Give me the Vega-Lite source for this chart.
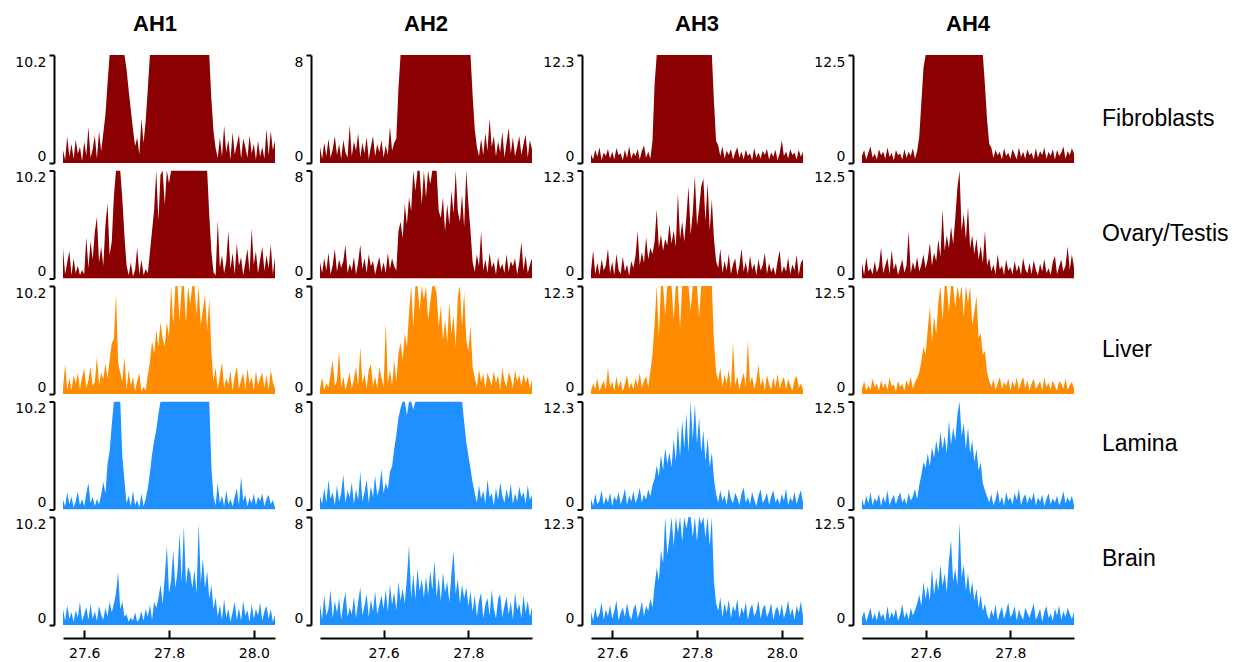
{
"$schema": "https://vega.github.io/schema/vega-lite/v6.json",
"background": "white",
"padding": {"left": 14, "top": 13, "right": 0, "bottom": 5},
"config": {
  "view": {"stroke": null},
  "font": "DejaVu Sans",
  "title": {"font": "Liberation Sans", "fontSize": 22, "fontWeight": "bold", "color": "#000", "offset": 18, "anchor": "middle", "frame": "group"},
  "axisY": {"title": null, "grid": false, "domain": true, "domainColor": "#000", "domainWidth": 2, "tickColor": "#000", "tickWidth": 2, "tickSize": 5, "labelPadding": 3, "offset": 9, "labelFlush": true, "labelFont": "DejaVu Sans", "labelFontSize": 14, "labelColor": "#000", "labelExpr": "'' + datum.value"},
  "axisX": {"title": null, "grid": false, "domain": true, "domainColor": "#000", "domainWidth": 2, "tickColor": "#000", "tickWidth": 2, "tickSize": -8, "labelPadding": 16, "offset": 13, "labelFlush": false, "labelFont": "DejaVu Sans", "labelFontSize": 14, "labelColor": "#000"},
  "area": {"line": false}
},
"datasets": {
"AH1": [
{"x":27.55,"F":1.2,"O":2.8,"L":0.5,"M":0.9,"B":1.5},
{"x":27.555,"F":0.3,"O":0.4,"L":2.8,"M":0.3,"B":0.4},
{"x":27.56,"F":2.5,"O":1.5,"L":0.4,"M":1.6,"B":1.9},
{"x":27.565,"F":0.6,"O":2.6,"L":1.5,"M":0.5,"B":0.6},
{"x":27.57,"F":1.8,"O":0.3,"L":0.3,"M":1.2,"B":1.2},
{"x":27.575,"F":0.4,"O":1.9,"L":1.8,"M":0.2,"B":0.3},
{"x":27.58,"F":2.2,"O":0.5,"L":1.0,"M":0.8,"B":1.4},
{"x":27.585,"F":0.9,"O":1.2,"L":2.0,"M":1.7,"B":0.7},
{"x":27.59,"F":1.5,"O":0.3,"L":0.4,"M":0.4,"B":2.2},
{"x":27.595,"F":0.2,"O":0.8,"L":1.6,"M":1.0,"B":0.4},
{"x":27.6,"F":2.0,"O":0.4,"L":2.4,"M":0.3,"B":1.0},
{"x":27.605,"F":0.7,"O":3.9,"L":0.6,"M":1.5,"B":1.7},
{"x":27.61,"F":3.4,"O":1.0,"L":1.3,"M":2.5,"B":0.5},
{"x":27.615,"F":0.5,"O":3.5,"L":2.6,"M":0.6,"B":2.0},
{"x":27.62,"F":1.3,"O":1.8,"L":0.8,"M":1.2,"B":0.6},
{"x":27.625,"F":2.6,"O":4.4,"L":1.1,"M":0.3,"B":1.3},
{"x":27.63,"F":0.4,"O":5.8,"L":3.5,"M":1.0,"B":0.4},
{"x":27.635,"F":3.0,"O":1.5,"L":0.9,"M":0.5,"B":1.8},
{"x":27.64,"F":1.1,"O":3.0,"L":2.0,"M":1.4,"B":1.0},
{"x":27.645,"F":2.8,"O":1.2,"L":1.4,"M":2.6,"B":0.5},
{"x":27.65,"F":4.5,"O":5.0,"L":2.9,"M":1.5,"B":1.6},
{"x":27.655,"F":7.5,"O":7.1,"L":1.5,"M":4.3,"B":0.8},
{"x":27.66,"F":10.2,"O":2.2,"L":3.2,"M":5.5,"B":2.2},
{"x":27.665,"F":10.2,"O":3.5,"L":4.8,"M":8.0,"B":1.2},
{"x":27.67,"F":10.2,"O":7.8,"L":5.2,"M":10.2,"B":2.0},
{"x":27.675,"F":10.2,"O":10.2,"L":9.5,"M":10.2,"B":3.0},
{"x":27.68,"F":10.2,"O":10.2,"L":3.0,"M":10.2,"B":5.0},
{"x":27.685,"F":10.2,"O":10.2,"L":2.0,"M":10.2,"B":1.5},
{"x":27.69,"F":10.2,"O":7.5,"L":1.2,"M":5.0,"B":2.2},
{"x":27.695,"F":10.2,"O":4.0,"L":3.5,"M":2.7,"B":0.8},
{"x":27.7,"F":8.8,"O":1.2,"L":0.4,"M":0.6,"B":1.0},
{"x":27.705,"F":6.8,"O":0.3,"L":2.3,"M":1.3,"B":0.3},
{"x":27.71,"F":5.0,"O":1.5,"L":0.8,"M":0.3,"B":0.7},
{"x":27.715,"F":3.2,"O":0.2,"L":1.6,"M":1.8,"B":0.4},
{"x":27.72,"F":1.6,"O":0.8,"L":0.3,"M":0.4,"B":1.2},
{"x":27.725,"F":2.4,"O":2.9,"L":1.2,"M":0.9,"B":0.3},
{"x":27.73,"F":0.8,"O":0.4,"L":2.0,"M":0.2,"B":0.6},
{"x":27.735,"F":4.2,"O":1.8,"L":0.2,"M":1.5,"B":1.3},
{"x":27.74,"F":1.9,"O":0.3,"L":0.7,"M":0.3,"B":0.4},
{"x":27.745,"F":4.0,"O":0.9,"L":0.3,"M":1.0,"B":1.5},
{"x":27.75,"F":7.0,"O":0.5,"L":1.8,"M":2.0,"B":0.8},
{"x":27.755,"F":10.2,"O":2.5,"L":3.0,"M":3.5,"B":1.9},
{"x":27.76,"F":10.2,"O":4.5,"L":5.0,"M":5.2,"B":0.5},
{"x":27.765,"F":10.2,"O":6.5,"L":3.8,"M":6.5,"B":2.2},
{"x":27.77,"F":10.2,"O":10.2,"L":6.0,"M":7.5,"B":1.6},
{"x":27.775,"F":10.2,"O":5.5,"L":4.5,"M":9.0,"B":2.5},
{"x":27.78,"F":10.2,"O":9.8,"L":6.8,"M":10.2,"B":3.8},
{"x":27.785,"F":10.2,"O":10.2,"L":5.2,"M":10.2,"B":2.0},
{"x":27.79,"F":10.2,"O":7.0,"L":4.5,"M":10.2,"B":4.5},
{"x":27.795,"F":10.2,"O":10.2,"L":6.8,"M":10.2,"B":7.5},
{"x":27.8,"F":10.2,"O":9.0,"L":5.4,"M":10.2,"B":3.0},
{"x":27.805,"F":10.2,"O":10.2,"L":10.2,"M":10.2,"B":4.2},
{"x":27.81,"F":10.2,"O":10.2,"L":6.5,"M":10.2,"B":7.1},
{"x":27.815,"F":10.2,"O":10.2,"L":10.2,"M":10.2,"B":3.5},
{"x":27.82,"F":10.2,"O":10.2,"L":10.2,"M":10.2,"B":5.0},
{"x":27.825,"F":10.2,"O":10.2,"L":7.0,"M":10.2,"B":8.7},
{"x":27.83,"F":10.2,"O":10.2,"L":10.2,"M":10.2,"B":4.0},
{"x":27.835,"F":10.2,"O":10.2,"L":10.2,"M":10.2,"B":9.4},
{"x":27.84,"F":10.2,"O":10.2,"L":6.8,"M":10.2,"B":3.8},
{"x":27.845,"F":10.2,"O":10.2,"L":10.2,"M":10.2,"B":5.5},
{"x":27.85,"F":10.2,"O":10.2,"L":8.5,"M":10.2,"B":4.9},
{"x":27.855,"F":10.2,"O":10.2,"L":10.2,"M":10.2,"B":3.5},
{"x":27.86,"F":10.2,"O":10.2,"L":10.2,"M":10.2,"B":5.2},
{"x":27.865,"F":10.2,"O":10.2,"L":7.5,"M":10.2,"B":3.0},
{"x":27.87,"F":10.2,"O":10.2,"L":10.2,"M":10.2,"B":9.6},
{"x":27.875,"F":10.2,"O":10.2,"L":6.5,"M":10.2,"B":4.0},
{"x":27.88,"F":10.2,"O":10.2,"L":8.0,"M":10.2,"B":6.3},
{"x":27.885,"F":10.2,"O":10.2,"L":9.3,"M":10.2,"B":3.5},
{"x":27.89,"F":10.2,"O":10.2,"L":6.0,"M":10.2,"B":5.1},
{"x":27.895,"F":10.2,"O":6.0,"L":9.0,"M":10.2,"B":2.5},
{"x":27.9,"F":6.0,"O":2.5,"L":4.0,"M":4.0,"B":3.8},
{"x":27.905,"F":3.0,"O":0.6,"L":1.2,"M":1.2,"B":1.5},
{"x":27.91,"F":1.4,"O":0.3,"L":2.5,"M":0.4,"B":2.6},
{"x":27.915,"F":0.5,"O":5.5,"L":0.4,"M":2.5,"B":0.8},
{"x":27.92,"F":2.4,"O":1.0,"L":1.8,"M":0.6,"B":1.9},
{"x":27.925,"F":0.6,"O":2.2,"L":3.0,"M":1.3,"B":0.5},
{"x":27.93,"F":3.5,"O":0.5,"L":0.6,"M":0.3,"B":2.4},
{"x":27.935,"F":1.0,"O":1.6,"L":1.5,"M":1.8,"B":0.7},
{"x":27.94,"F":2.2,"O":4.5,"L":0.9,"M":0.5,"B":1.5},
{"x":27.945,"F":0.3,"O":0.9,"L":2.2,"M":1.0,"B":0.3},
{"x":27.95,"F":2.9,"O":2.4,"L":0.3,"M":0.3,"B":1.2},
{"x":27.955,"F":0.8,"O":0.4,"L":1.7,"M":1.2,"B":2.2},
{"x":27.96,"F":1.7,"O":3.3,"L":2.6,"M":2.0,"B":0.5},
{"x":27.965,"F":2.7,"O":1.2,"L":0.5,"M":0.4,"B":1.6},
{"x":27.97,"F":0.4,"O":2.0,"L":1.3,"M":3.1,"B":0.4},
{"x":27.975,"F":2.3,"O":0.3,"L":2.0,"M":0.8,"B":2.3},
{"x":27.98,"F":1.5,"O":1.5,"L":0.4,"M":1.4,"B":0.9},
{"x":27.985,"F":0.5,"O":2.8,"L":2.4,"M":0.3,"B":1.4},
{"x":27.99,"F":2.6,"O":0.6,"L":1.0,"M":1.1,"B":0.3},
{"x":27.995,"F":0.9,"O":4.7,"L":1.6,"M":0.6,"B":2.0},
{"x":28.0,"F":1.8,"O":1.3,"L":0.3,"M":1.5,"B":0.6},
{"x":28.005,"F":0.3,"O":2.6,"L":2.2,"M":0.4,"B":1.5},
{"x":28.01,"F":2.1,"O":0.5,"L":0.8,"M":1.2,"B":0.9},
{"x":28.015,"F":0.6,"O":1.8,"L":1.5,"M":0.8,"B":2.1},
{"x":28.02,"F":1.5,"O":3.0,"L":2.0,"M":1.5,"B":0.4},
{"x":28.025,"F":0.4,"O":0.7,"L":0.6,"M":0.3,"B":1.3},
{"x":28.03,"F":3.2,"O":2.2,"L":1.8,"M":1.0,"B":1.8},
{"x":28.035,"F":0.7,"O":1.0,"L":0.4,"M":1.4,"B":0.6},
{"x":28.04,"F":3.0,"O":3.2,"L":2.3,"M":0.5,"B":1.5},
{"x":28.045,"F":1.2,"O":0.4,"L":1.1,"M":0.9,"B":0.3},
{"x":28.05,"F":2.1,"O":2.0,"L":0.5,"M":0.2,"B":1.0}
],
"AH2": [
{"x":27.45,"F":1.2,"O":1.2,"L":0.4,"M":1.0,"B":1.5},
{"x":27.455,"F":0.3,"O":0.4,"L":1.2,"M":0.4,"B":0.4},
{"x":27.46,"F":1.5,"O":1.5,"L":0.3,"M":1.6,"B":2.2},
{"x":27.465,"F":0.5,"O":0.6,"L":0.8,"M":0.5,"B":0.7},
{"x":27.47,"F":1.8,"O":1.9,"L":0.5,"M":2.2,"B":1.2},
{"x":27.475,"F":0.4,"O":0.3,"L":1.5,"M":0.8,"B":2.6},
{"x":27.48,"F":1.0,"O":1.0,"L":2.5,"M":1.3,"B":0.5},
{"x":27.485,"F":2.0,"O":2.2,"L":0.6,"M":0.3,"B":1.8},
{"x":27.49,"F":0.6,"O":0.5,"L":1.0,"M":1.8,"B":0.9},
{"x":27.495,"F":1.4,"O":1.4,"L":3.2,"M":0.6,"B":2.0},
{"x":27.5,"F":0.3,"O":0.8,"L":0.5,"M":1.2,"B":0.4},
{"x":27.505,"F":1.7,"O":1.3,"L":1.3,"M":2.6,"B":1.6},
{"x":27.51,"F":0.8,"O":2.5,"L":0.3,"M":0.5,"B":2.4},
{"x":27.515,"F":0.4,"O":0.4,"L":0.9,"M":1.4,"B":0.6},
{"x":27.52,"F":2.8,"O":1.1,"L":1.6,"M":0.9,"B":1.3},
{"x":27.525,"F":0.5,"O":0.6,"L":0.4,"M":2.0,"B":0.8},
{"x":27.53,"F":1.6,"O":1.6,"L":1.1,"M":0.4,"B":2.1},
{"x":27.535,"F":0.9,"O":0.3,"L":2.0,"M":1.5,"B":0.5},
{"x":27.54,"F":2.2,"O":1.2,"L":0.6,"M":0.7,"B":1.7},
{"x":27.545,"F":0.4,"O":2.5,"L":3.5,"M":2.8,"B":2.8},
{"x":27.55,"F":1.5,"O":0.7,"L":0.8,"M":0.6,"B":0.7},
{"x":27.555,"F":0.7,"O":1.5,"L":1.5,"M":1.3,"B":1.4},
{"x":27.56,"F":1.9,"O":0.4,"L":0.4,"M":2.2,"B":2.3},
{"x":27.565,"F":0.3,"O":1.8,"L":1.8,"M":0.5,"B":0.6},
{"x":27.57,"F":1.2,"O":0.9,"L":2.2,"M":1.7,"B":1.9},
{"x":27.575,"F":2.0,"O":1.3,"L":0.6,"M":0.9,"B":1.0},
{"x":27.58,"F":0.5,"O":0.3,"L":1.3,"M":2.5,"B":2.5},
{"x":27.585,"F":1.4,"O":1.0,"L":0.4,"M":1.0,"B":0.8},
{"x":27.59,"F":0.8,"O":1.6,"L":2.0,"M":1.6,"B":1.5},
{"x":27.595,"F":1.7,"O":0.5,"L":1.2,"M":3.0,"B":2.2},
{"x":27.6,"F":0.4,"O":1.2,"L":0.5,"M":1.2,"B":1.2},
{"x":27.605,"F":1.3,"O":0.4,"L":5.3,"M":2.0,"B":2.6},
{"x":27.61,"F":0.6,"O":1.9,"L":0.8,"M":1.5,"B":1.0},
{"x":27.615,"F":2.7,"O":0.7,"L":1.8,"M":2.8,"B":3.0},
{"x":27.62,"F":0.9,"O":1.5,"L":0.6,"M":3.2,"B":1.5},
{"x":27.625,"F":1.5,"O":0.9,"L":2.5,"M":4.5,"B":2.4},
{"x":27.63,"F":1.8,"O":0.6,"L":0.9,"M":5.5,"B":1.1},
{"x":27.635,"F":5.5,"O":3.5,"L":3.0,"M":6.8,"B":3.2},
{"x":27.64,"F":8,"O":4.2,"L":3.8,"M":7.5,"B":1.8},
{"x":27.645,"F":8,"O":3.0,"L":2.5,"M":8,"B":2.7},
{"x":27.65,"F":8,"O":5.5,"L":4.5,"M":8,"B":1.6},
{"x":27.655,"F":8,"O":4.0,"L":3.5,"M":7.0,"B":3.5},
{"x":27.66,"F":8,"O":6.0,"L":6.0,"M":8,"B":5.9},
{"x":27.665,"F":8,"O":5.0,"L":8,"M":8,"B":2.0},
{"x":27.67,"F":8,"O":8,"L":5.0,"M":7.4,"B":3.8},
{"x":27.675,"F":8,"O":6.5,"L":8,"M":8,"B":1.9},
{"x":27.68,"F":8,"O":8,"L":8,"M":8,"B":4.2},
{"x":27.685,"F":8,"O":8,"L":6.2,"M":8,"B":2.5},
{"x":27.69,"F":8,"O":5.5,"L":8,"M":8,"B":3.4},
{"x":27.695,"F":8,"O":8,"L":7.0,"M":8,"B":2.0},
{"x":27.7,"F":8,"O":6.0,"L":8,"M":8,"B":3.6},
{"x":27.705,"F":8,"O":8,"L":5.5,"M":8,"B":2.2},
{"x":27.71,"F":8,"O":7.0,"L":6.8,"M":8,"B":4.0},
{"x":27.715,"F":8,"O":8,"L":8,"M":8,"B":2.6},
{"x":27.72,"F":8,"O":8,"L":8,"M":8,"B":4.8},
{"x":27.725,"F":8,"O":8,"L":7.5,"M":8,"B":2.1},
{"x":27.73,"F":8,"O":5.0,"L":5.0,"M":8,"B":3.5},
{"x":27.735,"F":8,"O":4.5,"L":6.5,"M":8,"B":1.8},
{"x":27.74,"F":8,"O":6.0,"L":4.0,"M":8,"B":3.9},
{"x":27.745,"F":8,"O":3.5,"L":5.5,"M":8,"B":2.4},
{"x":27.75,"F":8,"O":5.5,"L":3.8,"M":8,"B":3.2},
{"x":27.755,"F":8,"O":4.0,"L":6.8,"M":8,"B":1.7},
{"x":27.76,"F":8,"O":6.5,"L":4.5,"M":8,"B":3.8},
{"x":27.765,"F":8,"O":4.8,"L":5.8,"M":8,"B":5.5},
{"x":27.77,"F":8,"O":8,"L":3.5,"M":8,"B":2.3},
{"x":27.775,"F":8,"O":5.0,"L":7.2,"M":8,"B":3.4},
{"x":27.78,"F":8,"O":4.2,"L":8,"M":8,"B":1.6},
{"x":27.785,"F":8,"O":6.2,"L":5.0,"M":8,"B":3.0},
{"x":27.79,"F":8,"O":3.8,"L":7.6,"M":6.5,"B":2.0},
{"x":27.795,"F":8,"O":8,"L":4.0,"M":5.0,"B":2.8},
{"x":27.8,"F":8,"O":5.5,"L":3.2,"M":4.0,"B":1.4},
{"x":27.805,"F":8,"O":3.5,"L":5.0,"M":3.0,"B":2.5},
{"x":27.81,"F":5.0,"O":1.2,"L":2.0,"M":2.0,"B":1.0},
{"x":27.815,"F":2.5,"O":0.5,"L":1.2,"M":1.2,"B":2.2},
{"x":27.82,"F":1.2,"O":1.8,"L":0.5,"M":0.5,"B":0.6},
{"x":27.825,"F":0.5,"O":0.9,"L":1.8,"M":1.8,"B":1.8},
{"x":27.83,"F":1.8,"O":3.5,"L":0.9,"M":0.8,"B":2.4},
{"x":27.835,"F":0.6,"O":0.6,"L":1.5,"M":1.4,"B":0.5},
{"x":27.84,"F":2.2,"O":1.4,"L":0.4,"M":0.4,"B":1.5},
{"x":27.845,"F":0.9,"O":0.4,"L":1.6,"M":2.2,"B":2.0},
{"x":27.85,"F":3.3,"O":1.9,"L":1.1,"M":0.9,"B":0.7},
{"x":27.855,"F":1.2,"O":0.8,"L":0.6,"M":1.2,"B":2.6},
{"x":27.86,"F":2.0,"O":1.2,"L":1.7,"M":0.3,"B":1.2},
{"x":27.865,"F":0.5,"O":0.3,"L":0.8,"M":1.6,"B":0.5},
{"x":27.87,"F":1.6,"O":1.6,"L":1.4,"M":0.7,"B":1.9},
{"x":27.875,"F":0.8,"O":0.7,"L":0.3,"M":2.0,"B":2.3},
{"x":27.88,"F":2.3,"O":1.1,"L":1.9,"M":1.0,"B":0.6},
{"x":27.885,"F":0.4,"O":0.4,"L":1.0,"M":0.5,"B":1.4},
{"x":27.89,"F":1.5,"O":1.8,"L":0.5,"M":1.5,"B":2.1},
{"x":27.895,"F":2.6,"O":0.5,"L":1.6,"M":0.8,"B":0.8},
{"x":27.9,"F":0.7,"O":1.3,"L":1.2,"M":1.9,"B":1.7},
{"x":27.905,"F":1.9,"O":0.9,"L":0.4,"M":0.4,"B":0.4},
{"x":27.91,"F":0.5,"O":1.5,"L":1.8,"M":1.2,"B":2.4},
{"x":27.915,"F":1.2,"O":0.3,"L":0.9,"M":0.6,"B":1.1},
{"x":27.92,"F":2.0,"O":1.2,"L":1.4,"M":1.7,"B":1.6},
{"x":27.925,"F":0.6,"O":2.7,"L":0.6,"M":0.9,"B":0.5},
{"x":27.93,"F":1.4,"O":0.6,"L":1.5,"M":1.3,"B":2.2},
{"x":27.935,"F":2.1,"O":1.7,"L":0.8,"M":0.4,"B":0.9},
{"x":27.94,"F":0.4,"O":0.4,"L":1.3,"M":1.8,"B":1.8},
{"x":27.945,"F":1.7,"O":1.0,"L":0.4,"M":0.7,"B":0.6},
{"x":27.95,"F":1.0,"O":1.5,"L":1.1,"M":1.1,"B":1.3}
],
"AH3": [
{"x":27.55,"F":1.0,"O":0.8,"L":0.4,"M":1.2,"B":1.5},
{"x":27.555,"F":0.4,"O":3.2,"L":1.2,"M":0.4,"B":0.5},
{"x":27.56,"F":1.5,"O":0.5,"L":0.6,"M":1.8,"B":2.0},
{"x":27.565,"F":0.7,"O":1.8,"L":1.8,"M":0.6,"B":0.8},
{"x":27.57,"F":1.8,"O":0.4,"L":0.3,"M":1.0,"B":1.3},
{"x":27.575,"F":0.3,"O":2.2,"L":1.0,"M":2.2,"B":2.6},
{"x":27.58,"F":1.2,"O":0.9,"L":1.5,"M":0.5,"B":0.6},
{"x":27.585,"F":0.8,"O":1.5,"L":0.5,"M":1.4,"B":1.8},
{"x":27.59,"F":1.6,"O":3.4,"L":3.0,"M":0.8,"B":1.0},
{"x":27.595,"F":0.5,"O":0.6,"L":0.8,"M":1.9,"B":2.3},
{"x":27.6,"F":1.3,"O":1.9,"L":1.4,"M":0.4,"B":0.7},
{"x":27.605,"F":0.4,"O":0.4,"L":0.4,"M":1.5,"B":1.6},
{"x":27.61,"F":1.7,"O":2.8,"L":2.0,"M":1.0,"B":2.8},
{"x":27.615,"F":0.9,"O":1.0,"L":0.7,"M":2.0,"B":0.5},
{"x":27.62,"F":1.1,"O":0.5,"L":1.6,"M":0.6,"B":1.4},
{"x":27.625,"F":0.3,"O":2.5,"L":0.3,"M":1.3,"B":2.0},
{"x":27.63,"F":1.5,"O":0.8,"L":1.1,"M":2.4,"B":0.9},
{"x":27.635,"F":0.6,"O":1.6,"L":2.2,"M":0.5,"B":2.5},
{"x":27.64,"F":1.9,"O":0.3,"L":0.6,"M":1.6,"B":1.2},
{"x":27.645,"F":0.5,"O":2.0,"L":1.3,"M":0.9,"B":0.6},
{"x":27.65,"F":1.2,"O":1.2,"L":0.5,"M":2.1,"B":1.8},
{"x":27.655,"F":0.8,"O":2.6,"L":1.8,"M":0.7,"B":2.4},
{"x":27.66,"F":1.6,"O":5.4,"L":0.9,"M":1.4,"B":0.8},
{"x":27.665,"F":0.4,"O":1.5,"L":2.4,"M":2.5,"B":1.5},
{"x":27.67,"F":1.4,"O":3.0,"L":0.7,"M":0.8,"B":2.7},
{"x":27.675,"F":2.0,"O":1.8,"L":1.5,"M":1.7,"B":1.0},
{"x":27.68,"F":0.6,"O":4.7,"L":2.0,"M":1.1,"B":2.2},
{"x":27.685,"F":1.3,"O":2.2,"L":0.8,"M":2.3,"B":1.6},
{"x":27.69,"F":0.5,"O":3.5,"L":2.6,"M":1.5,"B":3.0},
{"x":27.695,"F":2.5,"O":2.8,"L":4.5,"M":2.8,"B":2.0},
{"x":27.7,"F":9.0,"O":4.2,"L":8.0,"M":3.5,"B":4.5},
{"x":27.705,"F":12.3,"O":7.9,"L":12.3,"M":5.0,"B":6.5},
{"x":27.71,"F":12.3,"O":3.5,"L":6.5,"M":3.8,"B":5.0},
{"x":27.715,"F":12.3,"O":5.0,"L":12.3,"M":6.2,"B":8.5},
{"x":27.72,"F":12.3,"O":3.2,"L":12.3,"M":4.5,"B":7.0},
{"x":27.725,"F":12.3,"O":4.5,"L":9.0,"M":7.0,"B":12.3},
{"x":27.73,"F":12.3,"O":3.8,"L":12.3,"M":5.2,"B":8.0},
{"x":27.735,"F":12.3,"O":6.2,"L":12.3,"M":6.5,"B":10.0},
{"x":27.74,"F":12.3,"O":4.0,"L":12.3,"M":4.8,"B":12.3},
{"x":27.745,"F":12.3,"O":5.5,"L":8.5,"M":8.0,"B":9.0},
{"x":27.75,"F":12.3,"O":3.6,"L":12.3,"M":5.5,"B":12.3},
{"x":27.755,"F":12.3,"O":9.7,"L":12.3,"M":9.5,"B":10.5},
{"x":27.76,"F":12.3,"O":4.5,"L":7.5,"M":6.0,"B":12.3},
{"x":27.765,"F":12.3,"O":6.5,"L":12.3,"M":10.2,"B":9.5},
{"x":27.77,"F":12.3,"O":4.2,"L":12.3,"M":7.0,"B":12.3},
{"x":27.775,"F":12.3,"O":7.0,"L":12.3,"M":11.0,"B":11.0},
{"x":27.78,"F":12.3,"O":10.5,"L":12.3,"M":6.5,"B":12.3},
{"x":27.785,"F":12.3,"O":5.0,"L":9.5,"M":12.3,"B":12.3},
{"x":27.79,"F":12.3,"O":7.5,"L":12.3,"M":8.0,"B":10.0},
{"x":27.795,"F":12.3,"O":11.7,"L":12.3,"M":12.0,"B":12.3},
{"x":27.8,"F":12.3,"O":6.0,"L":12.3,"M":7.5,"B":9.5},
{"x":27.805,"F":12.3,"O":8.0,"L":8.8,"M":10.5,"B":12.3},
{"x":27.81,"F":12.3,"O":10.5,"L":12.3,"M":6.5,"B":11.5},
{"x":27.815,"F":12.3,"O":11.4,"L":12.3,"M":9.0,"B":12.3},
{"x":27.82,"F":12.3,"O":6.5,"L":12.3,"M":5.5,"B":10.0},
{"x":27.825,"F":12.3,"O":10.9,"L":12.3,"M":8.2,"B":12.3},
{"x":27.83,"F":12.3,"O":5.5,"L":12.3,"M":4.8,"B":9.0},
{"x":27.835,"F":12.3,"O":9.0,"L":12.3,"M":6.5,"B":12.3},
{"x":27.84,"F":7.0,"O":4.5,"L":6.0,"M":3.5,"B":5.0},
{"x":27.845,"F":2.5,"O":2.0,"L":2.5,"M":1.8,"B":2.5},
{"x":27.85,"F":2.0,"O":1.2,"L":1.5,"M":0.8,"B":1.6},
{"x":27.855,"F":0.8,"O":3.4,"L":3.0,"M":2.2,"B":3.2},
{"x":27.86,"F":1.9,"O":0.6,"L":0.8,"M":1.0,"B":0.9},
{"x":27.865,"F":0.5,"O":2.0,"L":2.2,"M":1.6,"B":2.5},
{"x":27.87,"F":1.4,"O":0.9,"L":1.2,"M":0.5,"B":1.4},
{"x":27.875,"F":0.9,"O":2.8,"L":2.8,"M":2.4,"B":2.9},
{"x":27.88,"F":1.6,"O":0.5,"L":0.6,"M":1.2,"B":0.8},
{"x":27.885,"F":0.4,"O":1.6,"L":5.8,"M":0.7,"B":2.2},
{"x":27.89,"F":1.2,"O":2.3,"L":1.0,"M":1.9,"B":1.5},
{"x":27.895,"F":1.8,"O":0.4,"L":2.0,"M":1.3,"B":3.0},
{"x":27.9,"F":0.6,"O":1.5,"L":0.5,"M":0.5,"B":0.8},
{"x":27.905,"F":1.3,"O":3.4,"L":1.6,"M":1.8,"B":2.0},
{"x":27.91,"F":0.4,"O":0.8,"L":2.4,"M":2.5,"B":1.3},
{"x":27.915,"F":1.5,"O":1.9,"L":0.8,"M":0.8,"B":2.6},
{"x":27.92,"F":0.8,"O":0.5,"L":6.1,"M":1.4,"B":0.6},
{"x":27.925,"F":1.1,"O":2.6,"L":1.2,"M":0.6,"B":1.8},
{"x":27.93,"F":0.3,"O":1.0,"L":2.0,"M":2.0,"B":2.4},
{"x":27.935,"F":1.7,"O":1.7,"L":0.6,"M":1.1,"B":1.0},
{"x":27.94,"F":0.6,"O":0.4,"L":1.5,"M":0.4,"B":1.6},
{"x":27.945,"F":1.2,"O":2.2,"L":3.4,"M":1.6,"B":2.8},
{"x":27.95,"F":0.5,"O":0.9,"L":0.9,"M":2.3,"B":0.7},
{"x":27.955,"F":1.4,"O":1.5,"L":1.8,"M":0.7,"B":1.9},
{"x":27.96,"F":0.9,"O":2.9,"L":0.4,"M":1.2,"B":2.3},
{"x":27.965,"F":1.6,"O":0.5,"L":2.2,"M":1.9,"B":0.9},
{"x":27.97,"F":0.4,"O":1.8,"L":1.1,"M":0.5,"B":1.5},
{"x":27.975,"F":1.2,"O":0.7,"L":0.5,"M":1.5,"B":2.5},
{"x":27.98,"F":0.7,"O":1.3,"L":1.9,"M":2.2,"B":0.6},
{"x":27.985,"F":1.5,"O":0.4,"L":0.8,"M":0.8,"B":1.7},
{"x":27.99,"F":0.3,"O":2.0,"L":2.3,"M":1.3,"B":2.1},
{"x":27.995,"F":1.1,"O":3.2,"L":0.6,"M":0.6,"B":1.0},
{"x":28.0,"F":2.6,"O":0.6,"L":1.4,"M":1.8,"B":2.4},
{"x":28.005,"F":0.8,"O":1.4,"L":2.0,"M":1.0,"B":0.8},
{"x":28.01,"F":1.3,"O":0.8,"L":0.5,"M":2.4,"B":1.6},
{"x":28.015,"F":0.5,"O":2.4,"L":1.7,"M":0.5,"B":2.8},
{"x":28.02,"F":1.6,"O":0.5,"L":1.0,"M":1.4,"B":1.1},
{"x":28.025,"F":0.9,"O":1.6,"L":0.4,"M":0.9,"B":1.9},
{"x":28.03,"F":1.2,"O":0.9,"L":1.6,"M":2.0,"B":0.6},
{"x":28.035,"F":0.4,"O":2.7,"L":2.1,"M":0.6,"B":2.2},
{"x":28.04,"F":1.5,"O":0.4,"L":0.7,"M":1.5,"B":1.4},
{"x":28.045,"F":0.7,"O":1.8,"L":1.2,"M":2.2,"B":2.7},
{"x":28.05,"F":1.3,"O":2.2,"L":0.5,"M":0.8,"B":1.0}
],
"AH4": [
{"x":27.45,"F":0.8,"O":1.8,"L":0.6,"M":1.2,"B":0.8},
{"x":27.455,"F":1.5,"O":0.4,"L":1.5,"M":0.4,"B":1.6},
{"x":27.46,"F":0.4,"O":2.5,"L":0.4,"M":1.6,"B":0.4},
{"x":27.465,"F":1.2,"O":0.8,"L":1.0,"M":0.7,"B":1.2},
{"x":27.47,"F":1.9,"O":1.2,"L":0.5,"M":2.0,"B":2.0},
{"x":27.475,"F":0.6,"O":0.5,"L":1.8,"M":0.5,"B":0.6},
{"x":27.48,"F":1.1,"O":2.0,"L":0.8,"M":1.3,"B":1.4},
{"x":27.485,"F":0.4,"O":0.7,"L":1.2,"M":0.9,"B":0.5},
{"x":27.49,"F":1.6,"O":1.4,"L":0.4,"M":1.8,"B":1.8},
{"x":27.495,"F":0.9,"O":3.6,"L":1.6,"M":0.4,"B":0.9},
{"x":27.5,"F":1.3,"O":0.6,"L":0.7,"M":1.5,"B":1.3},
{"x":27.505,"F":0.5,"O":1.5,"L":1.3,"M":0.8,"B":0.4},
{"x":27.51,"F":1.8,"O":2.4,"L":0.5,"M":2.2,"B":2.2},
{"x":27.515,"F":0.7,"O":0.5,"L":1.9,"M":0.5,"B":0.7},
{"x":27.52,"F":1.2,"O":3.3,"L":0.9,"M":1.2,"B":1.5},
{"x":27.525,"F":0.3,"O":1.0,"L":1.1,"M":1.7,"B":0.9},
{"x":27.53,"F":1.5,"O":1.8,"L":0.3,"M":0.6,"B":1.9},
{"x":27.535,"F":0.9,"O":0.4,"L":1.5,"M":1.4,"B":0.5},
{"x":27.54,"F":1.1,"O":1.3,"L":0.8,"M":2.0,"B":1.2},
{"x":27.545,"F":0.4,"O":2.2,"L":1.2,"M":0.8,"B":2.4},
{"x":27.55,"F":1.6,"O":0.7,"L":0.4,"M":1.3,"B":0.8},
{"x":27.555,"F":0.6,"O":1.5,"L":1.6,"M":0.6,"B":1.5},
{"x":27.56,"F":1.3,"O":5.5,"L":0.9,"M":1.9,"B":0.6},
{"x":27.565,"F":0.8,"O":0.6,"L":2.0,"M":1.0,"B":2.0},
{"x":27.57,"F":1.7,"O":1.9,"L":0.6,"M":1.5,"B":1.1},
{"x":27.575,"F":0.5,"O":1.0,"L":1.4,"M":2.4,"B":1.7},
{"x":27.58,"F":1.4,"O":2.5,"L":1.8,"M":1.2,"B":2.5},
{"x":27.585,"F":3.0,"O":0.8,"L":2.5,"M":2.8,"B":3.5},
{"x":27.59,"F":7.0,"O":1.6,"L":3.8,"M":4.0,"B":2.2},
{"x":27.595,"F":11.0,"O":2.8,"L":5.5,"M":5.5,"B":5.0},
{"x":27.6,"F":12.5,"O":1.2,"L":4.5,"M":4.8,"B":3.0},
{"x":27.605,"F":12.5,"O":2.2,"L":7.5,"M":6.5,"B":4.5},
{"x":27.61,"F":12.5,"O":4.1,"L":10.1,"M":5.0,"B":2.8},
{"x":27.615,"F":12.5,"O":1.5,"L":6.0,"M":7.2,"B":6.5},
{"x":27.62,"F":12.5,"O":3.0,"L":9.0,"M":6.0,"B":3.5},
{"x":27.625,"F":12.5,"O":2.0,"L":7.0,"M":8.0,"B":5.5},
{"x":27.63,"F":12.5,"O":4.5,"L":10.5,"M":6.5,"B":4.0},
{"x":27.635,"F":12.5,"O":2.5,"L":12.5,"M":9.0,"B":7.0},
{"x":27.64,"F":12.5,"O":8.0,"L":8.5,"M":7.0,"B":4.5},
{"x":27.645,"F":12.5,"O":3.2,"L":12.5,"M":8.5,"B":6.0},
{"x":27.65,"F":12.5,"O":5.0,"L":12.5,"M":6.5,"B":3.8},
{"x":27.655,"F":12.5,"O":3.5,"L":9.5,"M":10.3,"B":7.5},
{"x":27.66,"F":12.5,"O":6.0,"L":12.5,"M":7.5,"B":9.8},
{"x":27.665,"F":12.5,"O":4.0,"L":12.5,"M":9.5,"B":5.0},
{"x":27.67,"F":12.5,"O":7.0,"L":10.0,"M":8.0,"B":6.5},
{"x":27.675,"F":12.5,"O":10.5,"L":12.5,"M":11.0,"B":4.5},
{"x":27.68,"F":12.5,"O":12.5,"L":11.0,"M":12.5,"B":11.9},
{"x":27.685,"F":12.5,"O":5.5,"L":12.5,"M":8.5,"B":5.5},
{"x":27.69,"F":12.5,"O":7.5,"L":9.0,"M":10.0,"B":7.0},
{"x":27.695,"F":12.5,"O":4.5,"L":12.5,"M":7.0,"B":4.0},
{"x":27.7,"F":12.5,"O":8.3,"L":10.5,"M":9.5,"B":6.0},
{"x":27.705,"F":12.5,"O":3.5,"L":12.5,"M":6.5,"B":3.5},
{"x":27.71,"F":12.5,"O":5.0,"L":8.0,"M":8.0,"B":5.0},
{"x":27.715,"F":12.5,"O":2.8,"L":9.5,"M":5.5,"B":2.8},
{"x":27.72,"F":12.5,"O":4.6,"L":11.3,"M":7.0,"B":4.2},
{"x":27.725,"F":12.5,"O":2.2,"L":6.5,"M":4.5,"B":2.0},
{"x":27.73,"F":12.5,"O":3.8,"L":7.0,"M":5.5,"B":3.5},
{"x":27.735,"F":12.5,"O":1.8,"L":4.5,"M":3.0,"B":1.6},
{"x":27.74,"F":9.0,"O":5.5,"L":5.0,"M":2.2,"B":2.5},
{"x":27.745,"F":5.0,"O":1.5,"L":2.5,"M":1.5,"B":1.2},
{"x":27.75,"F":2.2,"O":2.4,"L":1.5,"M":0.8,"B":0.6},
{"x":27.755,"F":1.8,"O":0.8,"L":0.8,"M":1.8,"B":1.8},
{"x":27.76,"F":0.6,"O":1.6,"L":1.7,"M":0.5,"B":1.0},
{"x":27.765,"F":1.5,"O":0.5,"L":0.5,"M":1.2,"B":2.4},
{"x":27.77,"F":0.9,"O":2.8,"L":1.2,"M":2.3,"B":0.5},
{"x":27.775,"F":1.3,"O":1.0,"L":2.0,"M":0.7,"B":1.4},
{"x":27.78,"F":0.4,"O":1.5,"L":0.6,"M":1.5,"B":2.1},
{"x":27.785,"F":1.7,"O":0.4,"L":1.4,"M":0.4,"B":0.7},
{"x":27.79,"F":0.8,"O":2.2,"L":0.9,"M":2.0,"B":1.6},
{"x":27.795,"F":1.2,"O":0.9,"L":1.8,"M":1.0,"B":2.6},
{"x":27.8,"F":0.5,"O":1.3,"L":0.4,"M":1.4,"B":0.9},
{"x":27.805,"F":1.6,"O":0.5,"L":1.5,"M":0.6,"B":1.3},
{"x":27.81,"F":1.0,"O":2.0,"L":0.8,"M":1.9,"B":2.2},
{"x":27.815,"F":0.4,"O":0.8,"L":1.9,"M":1.1,"B":0.5},
{"x":27.82,"F":1.8,"O":1.6,"L":0.5,"M":2.4,"B":1.8},
{"x":27.825,"F":0.7,"O":0.4,"L":1.3,"M":0.5,"B":1.1},
{"x":27.83,"F":1.3,"O":2.4,"L":2.0,"M":1.3,"B":0.6},
{"x":27.835,"F":0.5,"O":1.1,"L":0.7,"M":1.8,"B":2.0},
{"x":27.84,"F":1.6,"O":0.6,"L":1.6,"M":0.7,"B":1.4},
{"x":27.845,"F":0.9,"O":1.8,"L":0.4,"M":1.5,"B":0.8},
{"x":27.85,"F":1.2,"O":0.5,"L":1.2,"M":1.0,"B":1.7},
{"x":27.855,"F":0.4,"O":2.1,"L":1.8,"M":2.0,"B":2.5},
{"x":27.86,"F":1.7,"O":1.0,"L":0.6,"M":0.5,"B":0.6},
{"x":27.865,"F":0.6,"O":0.4,"L":1.0,"M":1.4,"B":1.2},
{"x":27.87,"F":1.4,"O":1.7,"L":1.5,"M":0.9,"B":1.9},
{"x":27.875,"F":0.9,"O":0.8,"L":0.4,"M":1.7,"B":0.4},
{"x":27.88,"F":1.8,"O":2.3,"L":1.9,"M":0.4,"B":1.5},
{"x":27.885,"F":0.5,"O":0.6,"L":0.8,"M":1.2,"B":2.2},
{"x":27.89,"F":1.3,"O":1.2,"L":1.3,"M":1.9,"B":0.8},
{"x":27.895,"F":0.8,"O":0.4,"L":0.5,"M":0.6,"B":1.3},
{"x":27.9,"F":1.6,"O":1.9,"L":1.6,"M":1.3,"B":0.5},
{"x":27.905,"F":0.4,"O":2.6,"L":0.9,"M":0.8,"B":1.9},
{"x":27.91,"F":1.5,"O":0.5,"L":0.4,"M":1.6,"B":1.1},
{"x":27.915,"F":0.8,"O":1.4,"L":1.5,"M":0.5,"B":2.3},
{"x":27.92,"F":1.2,"O":2.2,"L":1.2,"M":1.1,"B":0.6},
{"x":27.925,"F":1.9,"O":0.8,"L":0.6,"M":2.1,"B":1.6},
{"x":27.93,"F":0.5,"O":1.5,"L":1.8,"M":0.7,"B":0.9},
{"x":27.935,"F":1.4,"O":3.7,"L":0.5,"M":1.4,"B":2.0},
{"x":27.94,"F":0.9,"O":1.0,"L":1.0,"M":0.9,"B":1.3},
{"x":27.945,"F":1.7,"O":2.8,"L":1.4,"M":1.6,"B":0.7},
{"x":27.95,"F":1.1,"O":1.3,"L":0.7,"M":0.5,"B":1.5}
]
},
"hconcat": [
{
  "data": {"name": "AH1"},
  "transform": [{"fold": ["F","O","L","M","B"], "as": ["tissue","value"]}],
  "title": {"text": "AH1", "dx": 92},
  "spacing": 7.5,
  "facet": {"row": {"field": "tissue", "type": "nominal", "sort": ["F","O","L","M","B"], "header": {"labels": false, "title": null}}},
  "spec": {
    "width": 212, "height": 108,
    "mark": {"type": "area", "clip": true, "interpolate": "linear"},
    "encoding": {
      "x": {"field": "x", "type": "quantitative", "scale": {"domain": [27.55, 28.05], "nice": false, "zero": false}, "axis": {"values": [27.6, 27.8, 28.0], "format": ".1f"}},
      "y": {"field": "value", "type": "quantitative", "scale": {"domain": [0, 10.2], "nice": false}, "axis": {"values": [0, 10.2]}},
      "color": {"field": "tissue", "type": "nominal", "scale": {"domain": ["F","O","L","M","B"], "range": ["#8b0000","#8b0000","#ff8c00","#1e90ff","#1e90ff"]}, "legend": null}
    }
  }
},
{
  "data": {"name": "AH2"},
  "transform": [{"fold": ["F","O","L","M","B"], "as": ["tissue","value"]}],
  "title": {"text": "AH2", "dx": 106},
  "spacing": 7.5,
  "facet": {"row": {"field": "tissue", "type": "nominal", "sort": ["F","O","L","M","B"], "header": {"labels": false, "title": null}}},
  "spec": {
    "width": 212, "height": 108,
    "mark": {"type": "area", "clip": true, "interpolate": "linear"},
    "encoding": {
      "x": {"field": "x", "type": "quantitative", "scale": {"domain": [27.45, 27.95], "nice": false, "zero": false}, "axis": {"values": [27.6, 27.8], "format": ".1f"}},
      "y": {"field": "value", "type": "quantitative", "scale": {"domain": [0, 8], "nice": false}, "axis": {"values": [0, 8], "minExtent": 26}},
      "color": {"field": "tissue", "type": "nominal", "scale": {"domain": ["F","O","L","M","B"], "range": ["#8b0000","#8b0000","#ff8c00","#1e90ff","#1e90ff"]}, "legend": null}
    }
  }
},
{
  "data": {"name": "AH3"},
  "transform": [{"fold": ["F","O","L","M","B"], "as": ["tissue","value"]}],
  "title": {"text": "AH3", "dx": 106},
  "spacing": 7.5,
  "facet": {"row": {"field": "tissue", "type": "nominal", "sort": ["F","O","L","M","B"], "header": {"labels": false, "title": null}}},
  "spec": {
    "width": 212, "height": 108,
    "mark": {"type": "area", "clip": true, "interpolate": "linear"},
    "encoding": {
      "x": {"field": "x", "type": "quantitative", "scale": {"domain": [27.55, 28.05], "nice": false, "zero": false}, "axis": {"values": [27.6, 27.8, 28.0], "format": ".1f"}},
      "y": {"field": "value", "type": "quantitative", "scale": {"domain": [0, 12.3], "nice": false}, "axis": {"values": [0, 12.3]}},
      "color": {"field": "tissue", "type": "nominal", "scale": {"domain": ["F","O","L","M","B"], "range": ["#8b0000","#8b0000","#ff8c00","#1e90ff","#1e90ff"]}, "legend": null}
    }
  }
},
{
  "data": {"name": "AH4"},
  "transform": [{"fold": ["F","O","L","M","B"], "as": ["tissue","value"]}],
  "title": {"text": "AH4", "dx": 106},
  "spacing": 7.5,
  "facet": {"row": {"field": "tissue", "type": "nominal", "sort": ["F","O","L","M","B"], "header": {"title": null, "labelOrient": "right", "labelAngle": 0, "labelAlign": "right", "labelBaseline": "bottom", "labelLineHeight": 21.5, "labelFont": "Liberation Sans", "labelFontSize": 23, "labelColor": "#000", "labelPadding": 28, "labelExpr": "datum.value == 'F' ? ['\u00a0','Fibroblasts'] : datum.value == 'O' ? ['\u00a0','Ovary/Testis'] : datum.value == 'L' ? ['\u00a0','Liver'] : datum.value == 'M' ? 'Lamina' : 'Brain'"}}},
  "spec": {
    "width": 212, "height": 108,
    "mark": {"type": "area", "clip": true, "interpolate": "linear"},
    "encoding": {
      "x": {"field": "x", "type": "quantitative", "scale": {"domain": [27.45, 27.95], "nice": false, "zero": false}, "axis": {"values": [27.6, 27.8], "format": ".1f"}},
      "y": {"field": "value", "type": "quantitative", "scale": {"domain": [0, 12.5], "nice": false}, "axis": {"values": [0, 12.5]}},
      "color": {"field": "tissue", "type": "nominal", "scale": {"domain": ["F","O","L","M","B"], "range": ["#8b0000","#8b0000","#ff8c00","#1e90ff","#1e90ff"]}, "legend": null}
    }
  }
}
],
"spacing": 10
}
